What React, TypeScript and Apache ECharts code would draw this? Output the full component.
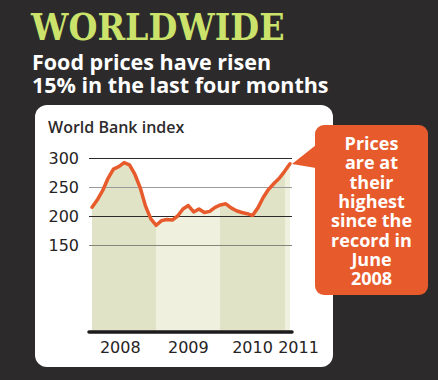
import React, { useEffect, useRef } from 'react';
import * as echarts from 'echarts';

const TITLE = 'WORLDWIDE';
const SUBTITLE_LINES = ['Food prices have risen', '15% in the last four months'];
const INDEX_LABEL = 'World Bank index';
const CALLOUT_LINES = ['Prices', 'are at', 'their', 'highest', 'since the', 'record in', 'June', '2008'];

// Monthly World Bank food price index, Jan 2008 .. Feb 2011
const START_YEAR = 2008;
const foodIndex2008 = [215, 228, 244, 265, 281, 285, 292, 288, 272, 249, 217, 195];
const foodIndex2009 = [184, 192, 194, 193, 200, 212, 218, 207, 212, 206, 208, 215];
const foodIndex2010 = [219, 221, 214, 209, 206, 204, 201, 214, 232, 246, 256, 265];
const foodIndex2011 = [277, 290];
const foodIndex = [...foodIndex2008, ...foodIndex2009, ...foodIndex2010, ...foodIndex2011];

const yTicks = [150, 200, 250, 300];
const yearLabels = ['2008', '2009', '2010', '2011'];
const yearLabelValues = [2008.44, 2009.5, 2010.5, 2011.1];
const bandYears = [2008, 2009, 2010, 2011];

const BG = '#2c2a2b';
const ORANGE = '#e75a2b';
const BAND_DARK = '#e1e3c6';
const BAND_LIGHT = '#eff0dd';
const TEXT_DARK = '#262324';

export default function App() {
  const ref = useRef<HTMLDivElement>(null);
  useEffect(() => {
    const chart = echarts.init(ref.current!, null, { renderer: 'svg' });
    const points = foodIndex.map((v, i) => [START_YEAR + i / 12, v]);
    const pieces = bandYears.map((y, i) => ({
      gte: i === 0 ? -Infinity : y,
      lt: i === bandYears.length - 1 ? Infinity : y + 1,
      color: i % 2 === 0 ? BAND_DARK : BAND_LIGHT,
    }));
    const calloutTop = 143;
    const calloutStep = 19.3;
    const calloutTexts = CALLOUT_LINES.map((line, i) => ({
      type: 'text',
      z: 11,
      x: 371.5,
      y: calloutTop + i * calloutStep,
      style: {
        text: line,
        fill: '#ffffff',
        fontFamily: 'Open Sans',
        fontWeight: 'bold',
        fontSize: 18,
        lineHeight: 18,
        align: 'center',
        verticalAlign: 'middle',
      },
    }));
    chart.setOption({
      animation: false,
      backgroundColor: BG,
      grid: { left: 89, right: 146, top: 158, bottom: 48 },
      visualMap: {
        type: 'piecewise',
        show: false,
        dimension: 0,
        seriesIndex: 0,
        pieces,
      },
      xAxis: {
        type: 'value',
        min: 2007.953,
        max: 2011.115,
        z: 4,
        axisLine: { show: true, lineStyle: { color: '#1d1b1c', width: 3.5 } },
        axisTick: { show: false },
        splitLine: { show: false },
        axisLabel: {
          customValues: yearLabelValues,
          margin: 7,
          color: TEXT_DARK,
          fontFamily: 'DejaVu Sans',
          fontSize: 16,
          formatter: (v: number) => {
            let best = 0;
            yearLabelValues.forEach((c, i) => {
              if (Math.abs(c - v) < Math.abs(yearLabelValues[best] - v)) best = i;
            });
            return best === yearLabels.length - 1 ? `{r|${yearLabels[best]}}` : yearLabels[best];
          },
          rich: {
            r: { padding: [0, 0, 0, 15], color: TEXT_DARK, fontFamily: 'DejaVu Sans', fontSize: 16 },
          },
        },
      },
      yAxis: {
        type: 'value',
        min: 0,
        max: 300,
        z: 3,
        axisLine: { show: false },
        axisTick: { show: false, customValues: yTicks },
        axisLabel: {
          customValues: yTicks,
          margin: 10,
          color: TEXT_DARK,
          fontFamily: 'DejaVu Sans',
          fontSize: 16,
        },
        splitLine: {
          show: true,
          lineStyle: { color: ['#85857a', '#2a2a2a', '#9a9a9a', '#2a2a2a'], width: 1 },
        },
      },
      series: [
        {
          type: 'line',
          data: points,
          symbol: 'none',
          z: 2,
          lineStyle: { width: 0, opacity: 0 },
          areaStyle: { opacity: 1 },
          silent: true,
        },
        {
          type: 'line',
          data: points,
          symbol: 'none',
          z: 6,
          lineStyle: { color: ORANGE, width: 3.5, cap: 'round', join: 'round' },
          itemStyle: { color: ORANGE },
          silent: true,
        },
      ],
      graphic: [
        {
          type: 'rect',
          z: -10,
          shape: { x: 35, y: 105, width: 298, height: 262, r: 12 },
          style: { fill: '#ffffff' },
        },
        {
          type: 'text',
          x: 31,
          y: 27,
          style: {
            text: TITLE,
            fill: '#cbe26b',
            fontFamily: '"DejaVu Serif Condensed", "DejaVu Serif"',
            fontWeight: 'bold',
            fontSize: 37,
            align: 'left',
            verticalAlign: 'middle',
          },
        },
        {
          type: 'text',
          x: 32,
          y: 61,
          style: {
            text: SUBTITLE_LINES[0],
            fill: '#ffffff',
            fontFamily: 'Open Sans',
            fontWeight: 'bold',
            fontSize: 21.5,
            align: 'left',
            verticalAlign: 'middle',
          },
        },
        {
          type: 'text',
          x: 32,
          y: 84,
          style: {
            text: SUBTITLE_LINES[1],
            fill: '#ffffff',
            fontFamily: 'Open Sans',
            fontWeight: 'bold',
            fontSize: 21.5,
            align: 'left',
            verticalAlign: 'middle',
          },
        },
        {
          type: 'text',
          x: 48,
          y: 127,
          style: {
            text: INDEX_LABEL,
            fill: '#2e2b2c',
            fontFamily: 'Open Sans',
            fontWeight: 600,
            fontSize: 16,
            align: 'left',
            verticalAlign: 'middle',
          },
        },
        {
          type: 'polygon',
          z: 10,
          shape: { points: [[316, 145], [292, 164], [316, 168]] },
          style: { fill: ORANGE },
        },
        {
          type: 'rect',
          z: 10,
          shape: { x: 315, y: 125, width: 113, height: 170, r: 9 },
          style: { fill: ORANGE },
        },
        ...calloutTexts,
      ],
    });
    return () => chart.dispose();
  }, []);
  return (
    <div
      ref={ref}
      style={{ position: 'absolute', left: 0, top: 0, width: 438, height: 380 }}
    />
  );
}
